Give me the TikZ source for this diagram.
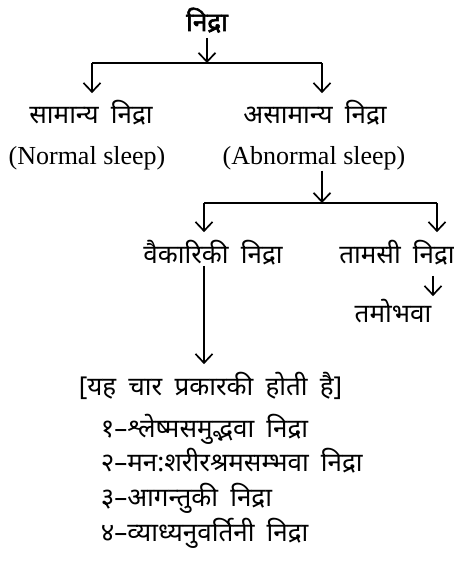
\documentclass[tikz,border=0pt]{standalone}
\usepackage{fontspec}
\setmainfont{Liberation Serif}
\newfontfamily\hindi[Script=Devanagari,WordSpace=1.8]{Noto Sans}
\newfontfamily\hindibold[Script=Devanagari,FakeBold=2.2]{Noto Sans}
\usetikzlibrary{arrows.meta}
\tikzset{
  lbl/.style={inner sep=0pt, text height=30pt, text depth=10pt, font=\hindi\fontsize{26}{30}\selectfont},
  eng/.style={inner sep=0pt, font=\fontsize{26}{30}\selectfont},
  item/.style={lbl, anchor=west},
  arr/.style={-{Straight Barb[length=9pt,width=17pt]}},
}
\begin{document}
\begin{tikzpicture}[x=1pt,y=-1pt,line width=1.7pt]
  \useasboundingbox (0,0) rectangle (454,561);
  \node[lbl,font=\hindibold\fontsize{26}{30}\selectfont] (nidra) at (207,21) {निद्रा};
  \node[lbl] (samanya) at (91,114) {सामान्य निद्रा};
  \node[lbl] (asamanya) at (315,114) {असामान्य निद्रा};
  \node[eng] (normal) at (87,158) {(Normal sleep)};
  \node[eng] (abnormal) at (314,158) {(Abnormal sleep)};
  \node[lbl] (vaikariki) at (213,253) {वैकारिकी निद्रा};
  \node[lbl] (tamasi) at (397,253) {तामसी निद्रा};
  \node[lbl] (tamobhava) at (393,312) {तमोभवा};
  \node[item] (kinds) at (78,385) {[यह चार प्रकारकी होती है]};
  \node[item] (k1) at (100,427) {१–श्लेष्मसमुद्भवा निद्रा};
  \node[item] (k2) at (100,461) {२–मन:शरीरश्रमसम्भवा निद्रा};
  \node[item] (k3) at (100,496) {३–आगन्तुकी निद्रा};
  \node[item] (k4) at (100,531) {४–व्याध्यनुवर्तिनी निद्रा};
  % branches
  \coordinate (aL) at (92,63);
  \coordinate (aR) at (322,63);
  \coordinate (bL) at (204,203);
  \coordinate (bR) at (437,203);
  \draw (aL) -- (aR);
  \draw (bL) -- (bR);
  \draw[arr] ([yshift=4pt]nidra.south) -- (nidra.south |- aL);
  \draw[arr] (aL) -- (aL |- samanya.north);
  \draw[arr] (aR) -- (aR |- asamanya.north);
  \draw[arr] (abnormal.south -| aR) -- (bR -| aR);
  \draw[arr] (bL) -- (bL |- vaikariki.north);
  \draw[arr] (bR) -- (bR |- tamasi.north);
  \draw[arr,shorten <=2pt,shorten >=-5pt] ([xshift=36pt]tamasi.south) -- ([xshift=36pt]tamasi.south |- tamobhava.north);
  \draw[arr] ([yshift=8pt]vaikariki.south -| bL) -- (bL |- kinds.north);
\end{tikzpicture}
\end{document}
